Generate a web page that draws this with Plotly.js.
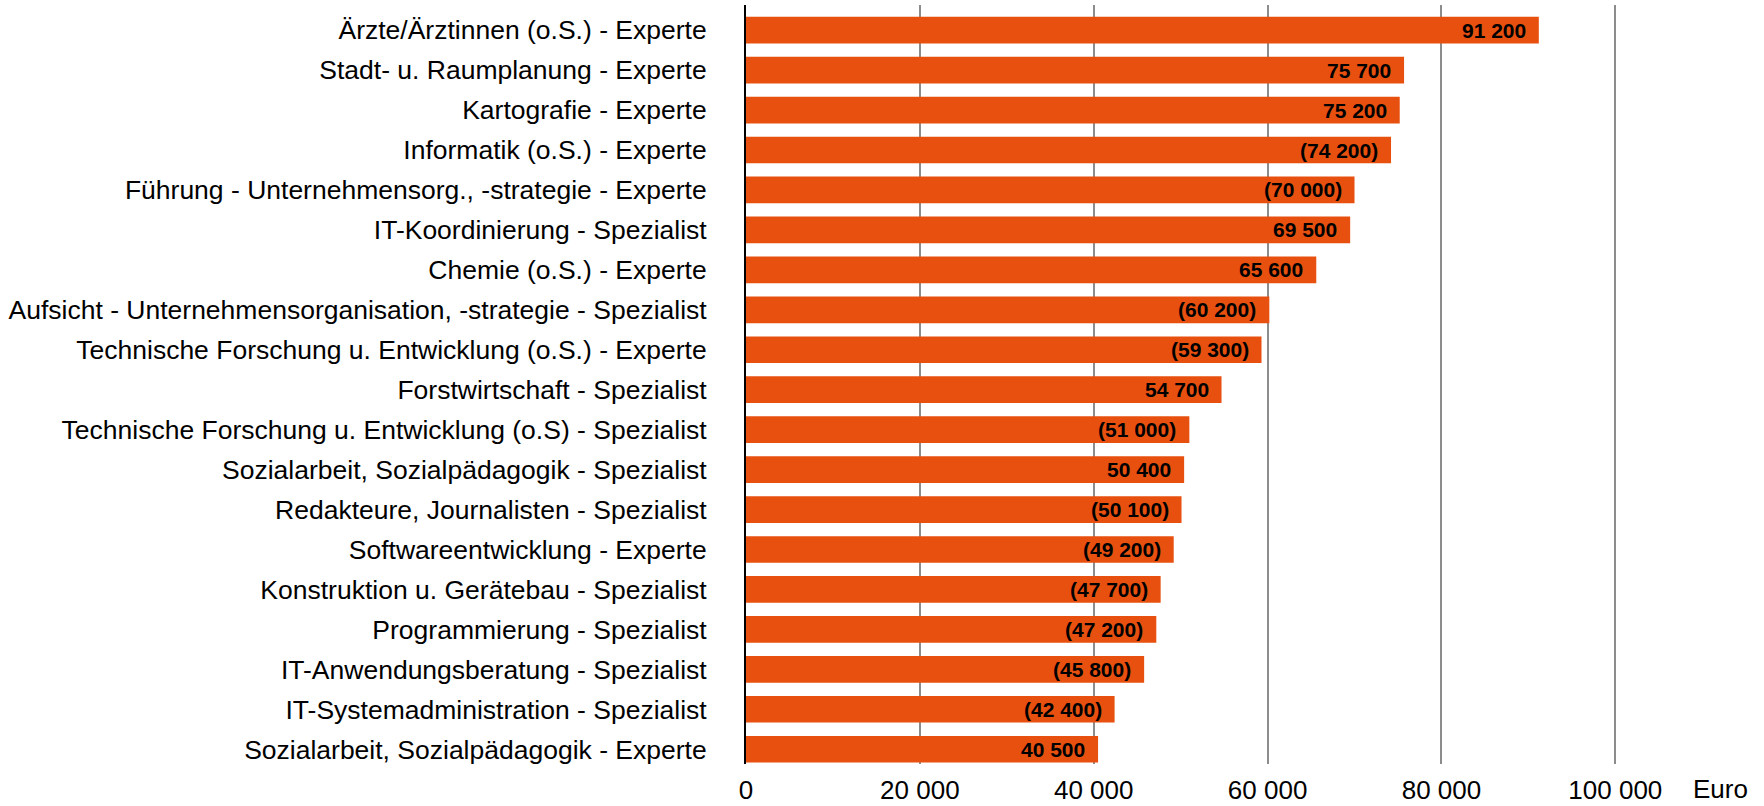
<!DOCTYPE html>
<html>
<head>
<meta charset="utf-8">
<script src="https://cdn.plot.ly/plotly-3.0.1.min.js"></script>
<style>
  html, body { margin: 0; padding: 0; background: #ffffff; }
  #chart { width: 1764px; height: 806px; }
</style>
</head>
<body>
<div id="chart"></div>
<script>
// ---- Data (top to bottom) ----
const categories = [
  "Ärzte/Ärztinnen (o.S.) - Experte",
  "Stadt- u. Raumplanung - Experte",
  "Kartografie - Experte",
  "Informatik (o.S.) - Experte",
  "Führung - Unternehmensorg., -strategie - Experte",
  "IT-Koordinierung - Spezialist",
  "Chemie (o.S.) - Experte",
  "Aufsicht - Unternehmensorganisation, -strategie - Spezialist",
  "Technische Forschung u. Entwicklung (o.S.) - Experte",
  "Forstwirtschaft - Spezialist",
  "Technische Forschung u. Entwicklung (o.S) - Spezialist",
  "Sozialarbeit, Sozialpädagogik - Spezialist",
  "Redakteure, Journalisten - Spezialist",
  "Softwareentwicklung - Experte",
  "Konstruktion u. Gerätebau - Spezialist",
  "Programmierung - Spezialist",
  "IT-Anwendungsberatung - Spezialist",
  "IT-Systemadministration - Spezialist",
  "Sozialarbeit, Sozialpädagogik - Experte"
];
const values = [91200, 75700, 75200, 74200, 70000, 69500, 65600, 60200, 59300, 54700,
                51000, 50400, 50100, 49200, 47700, 47200, 45800, 42400, 40500];
// values shown in parentheses in the source (limited reliability)
const inParentheses = [false, false, false, true, true, false, false, true, true, false,
                       true, false, true, true, true, true, true, true, false];
const tickValues = [0, 20000, 40000, 60000, 80000, 100000];
const tickLabels = ["0", "20 000", "40 000", "60 000", "80 000", "100 000"];
const unitLabel = "Euro";

// ---- Helpers ----
function fmt(v) {
  const th = Math.floor(v / 1000);
  const rest = String(v % 1000).padStart(3, "0");
  return th > 0 ? th + " " + rest : String(v);
}
const labels = values.map((v, i) => inParentheses[i] ? "(" + fmt(v) + ")" : fmt(v));

const FONT = "Liberation Sans, Arial, sans-serif";

const trace = {
  type: "bar",
  orientation: "h",
  x: values,
  y: categories,
  marker: { color: "#E8500F", line: { width: 0 } },
  width: 0.668,
  hoverinfo: "x+y"
};

const annotations = values.map((v, i) => ({
  x: v,
  y: categories[i],
  xref: "x",
  yref: "y",
  text: labels[i],
  showarrow: false,
  xanchor: "right",
  yanchor: "middle",
  xshift: -11,
  font: { family: FONT, size: 21, color: "#000000", weight: "bold" }
}));
annotations.push({
  x: 1.0777,
  y: 0,
  xref: "paper",
  yref: "paper",
  text: unitLabel,
  showarrow: false,
  xanchor: "left",
  yanchor: "middle",
  yshift: -25,
  borderpad: 0,
  font: { family: FONT, size: 26, color: "#000000" }
});

const layout = {
  width: 1764,
  height: 806,
  margin: { l: 746, r: 140, t: 5, b: 42, pad: 0 },
  paper_bgcolor: "#ffffff",
  plot_bgcolor: "#ffffff",
  showlegend: false,
  font: { family: FONT, size: 26, color: "#000000" },
  bargap: 0.33,
  xaxis: {
    range: [0, 101000],
    tickmode: "array",
    tickvals: tickValues,
    ticktext: tickLabels,
    showgrid: true,
    gridcolor: "#8c8c8c",
    gridwidth: 2,
    zeroline: false,
    showline: false,
    ticks: "",
    ticklabelstandoff: 8,
    tickfont: { family: FONT, size: 26, color: "#000000" },
    fixedrange: true
  },
  yaxis: {
    type: "category",
    range: [18.37, -0.63],
    showgrid: false,
    zeroline: false,
    showline: true,
    linecolor: "#000000",
    linewidth: 2,
    ticks: "",
    ticklabelstandoff: 32,
    tickfont: { family: FONT, size: 26.5, color: "#000000" },
    automargin: false,
    fixedrange: true
  },
  annotations: annotations
};

Plotly.newPlot("chart", [trace], layout, { displayModeBar: false, staticPlot: true });
</script>
</body>
</html>
